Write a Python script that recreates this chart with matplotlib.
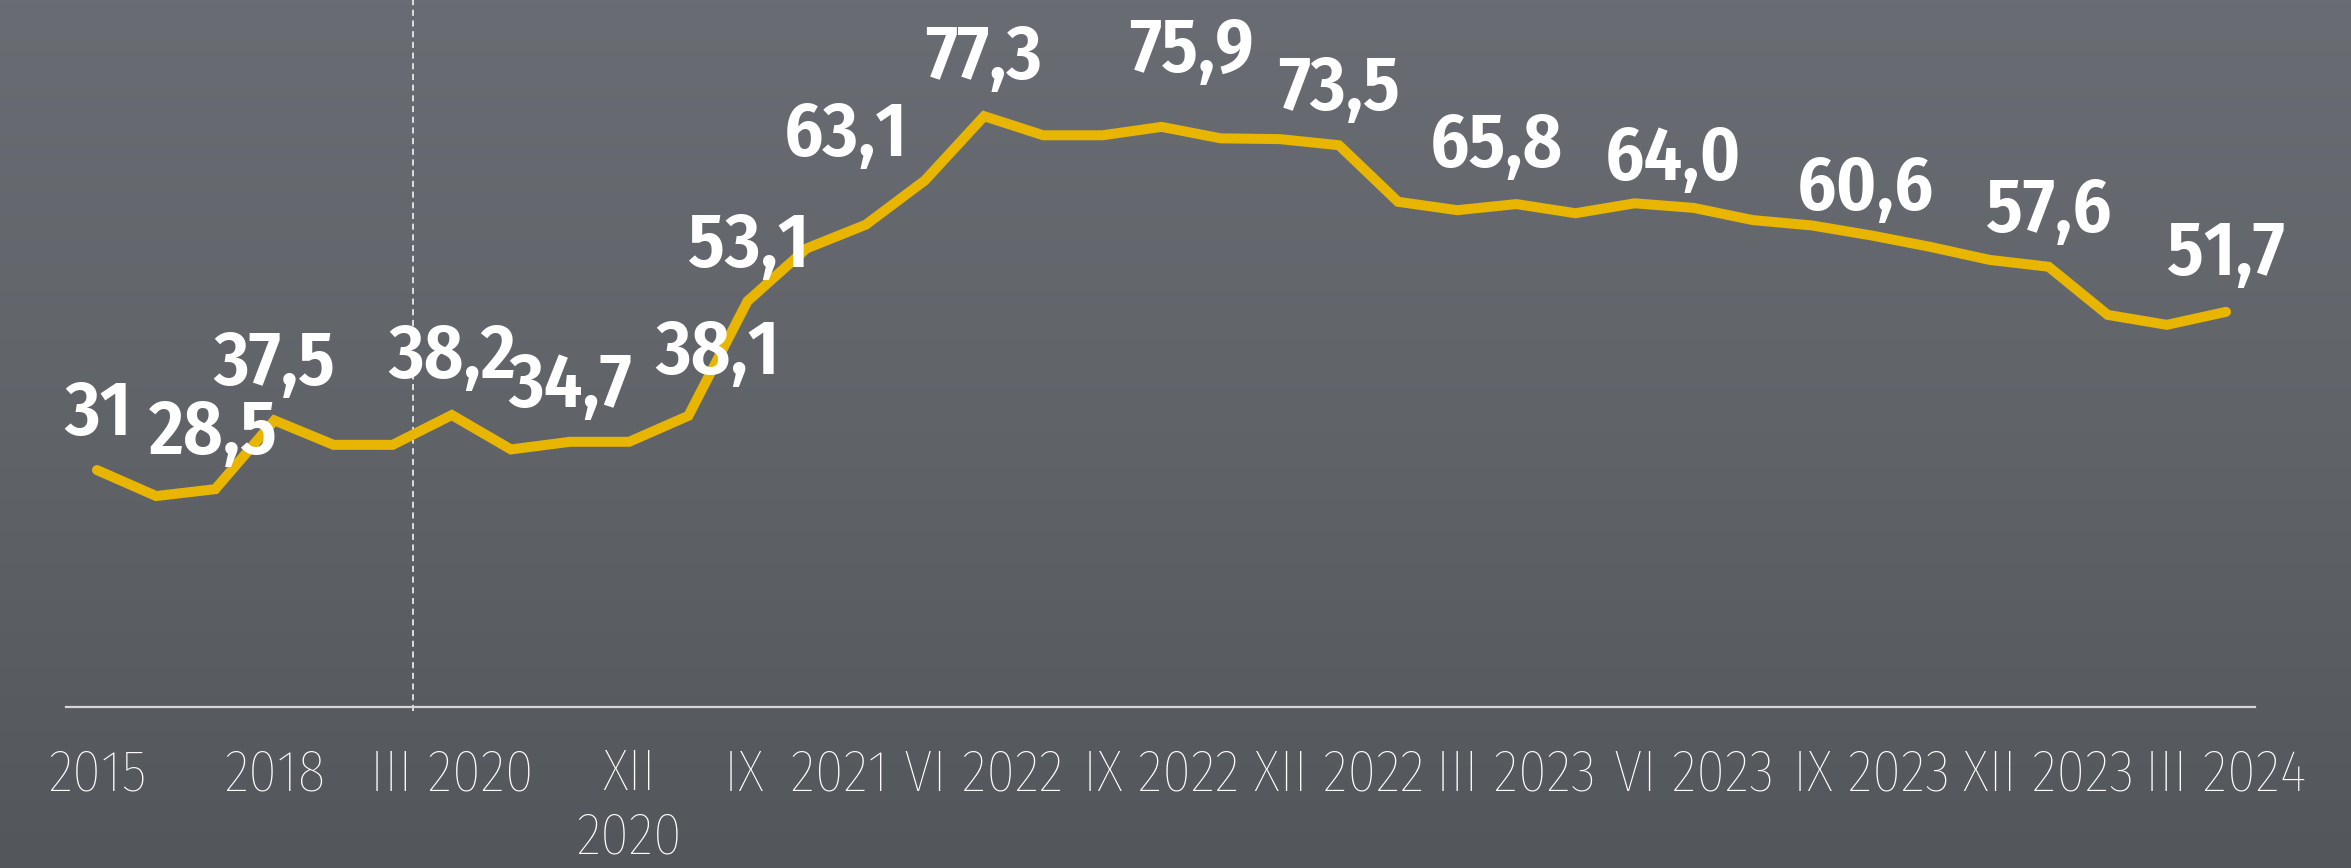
#!/usr/bin/env python3
# yellow line on dark textured-looking panel, values labelled every few points

import numpy as np
import matplotlib
matplotlib.use("Agg")
import matplotlib.pyplot as plt
from matplotlib.colors import LinearSegmentedColormap

# series values (one per period)
values = [31.0, 27.6, 28.5, 37.5, 34.3, 34.3, 38.2, 33.7, 34.7, 34.7,
          38.1, 53.1, 60.0, 63.1, 68.9, 77.3, 74.8, 74.8, 75.9, 74.4,
          74.3, 73.5, 66.1, 65.0, 65.8, 64.6, 65.9, 65.3, 63.7, 63.0,
          61.7, 60.2, 58.5, 57.6, 51.3, 50.0, 51.7]

# x tick labels, one every 3rd point
tick_labels = ["2015", "2018", "III 2020", "XII\n2020", "IX \u20092021", "VI 2022",
               "IX 2022", "XII 2022", "III 2023", "VI 2023", "IX 2023",
               "XII 2023", "III 2024"]

# labelled points (index into values) and the text printed
label_idx = [0, 2, 3, 6, 8, 10, 11, 13, 15, 18, 21, 24, 27, 30, 33, 36]
label_txt = ["31", "28,5", "37,5", "38,2", "34,7", "38,1", "53,1", "63,1",
             "77,3", "75,9", "73,5", "65,8", "64,0", "60,6", "57,6", "51,7"]

# label offsets in pixels (dx, dy) from the point
label_off = [(1, 35), (-2, 35), (0, 35), (0, 37), (0, 35), (29, 42), (1, 34),
             (-20, 69), (0, 37), (30, 55), (0, 35), (-20, 37), (-21, 28),
             (-6, 25), (0, 35), (0, 37)]

plt.rcParams["font.family"] = ["Fira Sans Condensed", "DejaVu Sans"]

W, H = 2351, 868
fig = plt.figure(figsize=(W / 100, H / 100), dpi=100)

# background gradient
bg = fig.add_axes([0, 0, 1, 1], zorder=0)
cmap = LinearSegmentedColormap.from_list("bg", ["#696d73", "#606469", "#53565b"])
bg.imshow(np.linspace(0, 1, 256).reshape(-1, 1), aspect="auto", cmap=cmap,
          extent=[0, 1, 0, 1])
bg.set_axis_off()

# main axes: x-axis line runs from px 66 to 2255, at y px 707
left, right, base = 66, 2255, 707
ax = fig.add_axes([left / W, (H - base) / H, (right - left) / W, base / H], zorder=1)
ax.patch.set_alpha(0)

x = np.arange(len(values))
ax.plot(x, values, color="#e8b500", lw=7.2, solid_capstyle="round",
        solid_joinstyle="miter", zorder=3)

ax.set_xlim(-0.524, 36.49)
ax.set_ylim(0, 92.5)

for sp in ["top", "right", "left"]:
    ax.spines[sp].set_visible(False)
ax.spines["bottom"].set_color("#d6d6d6")
ax.spines["bottom"].set_linewidth(1.6)
ax.set_yticks([])

ax.set_xticks(x[::3])
ax.set_xticklabels(tick_labels, multialignment="center", fontweight="light")
ax.tick_params(axis="x", length=0, pad=29, labelsize=42, labelcolor="white")

# dashed marker line
ax.axvline(5.34, ymin=-0.005, ymax=1, color="white", lw=1.1,
           dashes=(4, 3), zorder=2, clip_on=False)

for i, t, (dx, dy) in zip(label_idx, label_txt, label_off):
    ax.annotate(t, (i, values[i]), xytext=(dx, dy), textcoords="offset pixels",
                ha="center", va="baseline", color="white", fontsize=55,
                fontweight="semibold", zorder=4, annotation_clip=False)

fig.savefig("out.png", dpi=100)
